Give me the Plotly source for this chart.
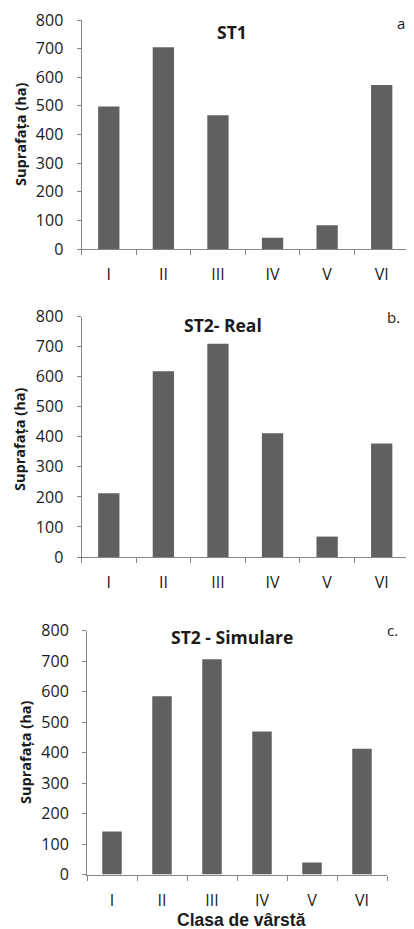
import plotly.graph_objects as go

categories = ["I", "II", "III", "IV", "V", "VI"]
st1 = [498, 705, 467, 39, 83, 573]
st2_real = [212, 618, 710, 412, 68, 378]
st2_sim = [141, 585, 706, 469, 39, 413]
panel_titles = ["ST1", "ST2- Real", "ST2 - Simulare"]
panel_letters = ["a.", "b.", "c."]
y_ticks = [0, 100, 200, 300, 400, 500, 600, 700, 800]
y_title = "Suprafața (ha)"
x_title = "Clasa de vârstă"

# page body has an 8px margin; work in screen pixels and convert
OFF = 8
SW, SH = 414, 929
W, H = SW - OFF, SH - OFF
bar_color = "#606060"
axis_color = "#868686"
text_color = "#1a1a1a"
font_main = "Open Sans"

def px_x(p):
    return (p - OFF) / W

def px_y(p):
    return 1 - (p - OFF) / H

fig = go.Figure()

series = [st1, st2_real, st2_sim]
# (x0, x1, y_top(800), y_bottom(0)) in screen pixels
boxes = [(81.5, 409, 20, 249), (81.5, 409, 316.7, 557), (87, 387, 630.7, 874.5)]

for i, (vals, box) in enumerate(zip(series, boxes)):
    n = "" if i == 0 else str(i + 1)
    fig.add_trace(go.Bar(x=categories, y=vals, marker_color=bar_color,
                         marker_line_width=0, xaxis="x" + n, yaxis="y" + n,
                         showlegend=False))
    x0, x1, yt, yb = box
    fig.layout["xaxis" + n] = dict(
        domain=[px_x(x0), px_x(x1)], anchor="y" + n, type="category",
        range=[-0.5, 5.5], showline=True, linecolor=axis_color, linewidth=1,
        ticks="outside", tickson="boundaries", ticklen=5, tickcolor=axis_color,
        showgrid=False, zeroline=False, ticklabelstandoff=11, automargin=False,
        tickfont=dict(family=font_main, size=16, color=text_color))
    fig.layout["yaxis" + n] = dict(
        domain=[px_y(yb), px_y(yt)], anchor="x" + n, range=[0, 800],
        tickvals=y_ticks, showline=True, linecolor=axis_color, linewidth=1,
        ticks="outside", ticklen=4, tickcolor=axis_color, showgrid=False,
        zeroline=False, ticklabelstandoff=10, automargin=False,
        tickfont=dict(family=font_main, size=16, color=text_color))

annotations = []
title_pos = [(232, 32), (223, 325), (232, 637)]
letter_pos = [(403, 23), (393, 317), (392, 630)]
ytitle_pos = [(20, 135), (19, 440), (25, 753)]
for i in range(3):
    annotations.append(dict(text="<b>" + panel_titles[i] + "</b>", x=px_x(title_pos[i][0]),
                            y=px_y(title_pos[i][1]), xref="paper", yref="paper",
                            showarrow=False, xanchor="center", yanchor="middle",
                            font=dict(family=font_main, size=17.5, color=text_color)))
    annotations.append(dict(text=panel_letters[i], x=px_x(letter_pos[i][0]),
                            y=px_y(letter_pos[i][1]), xref="paper", yref="paper",
                            showarrow=False, xanchor="center", yanchor="middle",
                            font=dict(family=font_main, size=15, color=text_color)))
    annotations.append(dict(text="<b>" + y_title + "</b>", x=px_x(ytitle_pos[i][0]),
                            y=px_y(ytitle_pos[i][1]), xref="paper", yref="paper",
                            showarrow=False, xanchor="center", yanchor="middle",
                            textangle=-90,
                            font=dict(family=font_main, size=14.5, color=text_color)))
annotations.append(dict(text="<b>" + x_title + "</b>", x=px_x(242), y=px_y(920),
                        xref="paper", yref="paper", showarrow=False,
                        xanchor="center", yanchor="middle",
                        font=dict(family="Liberation Sans", size=17.5, color=text_color)))

fig.update_layout(width=W, height=H, margin=dict(l=0, r=0, t=0, b=0, pad=0),
                  paper_bgcolor="white", plot_bgcolor="white",
                  bargap=0.61, annotations=annotations)

fig.write_html("out.html")
